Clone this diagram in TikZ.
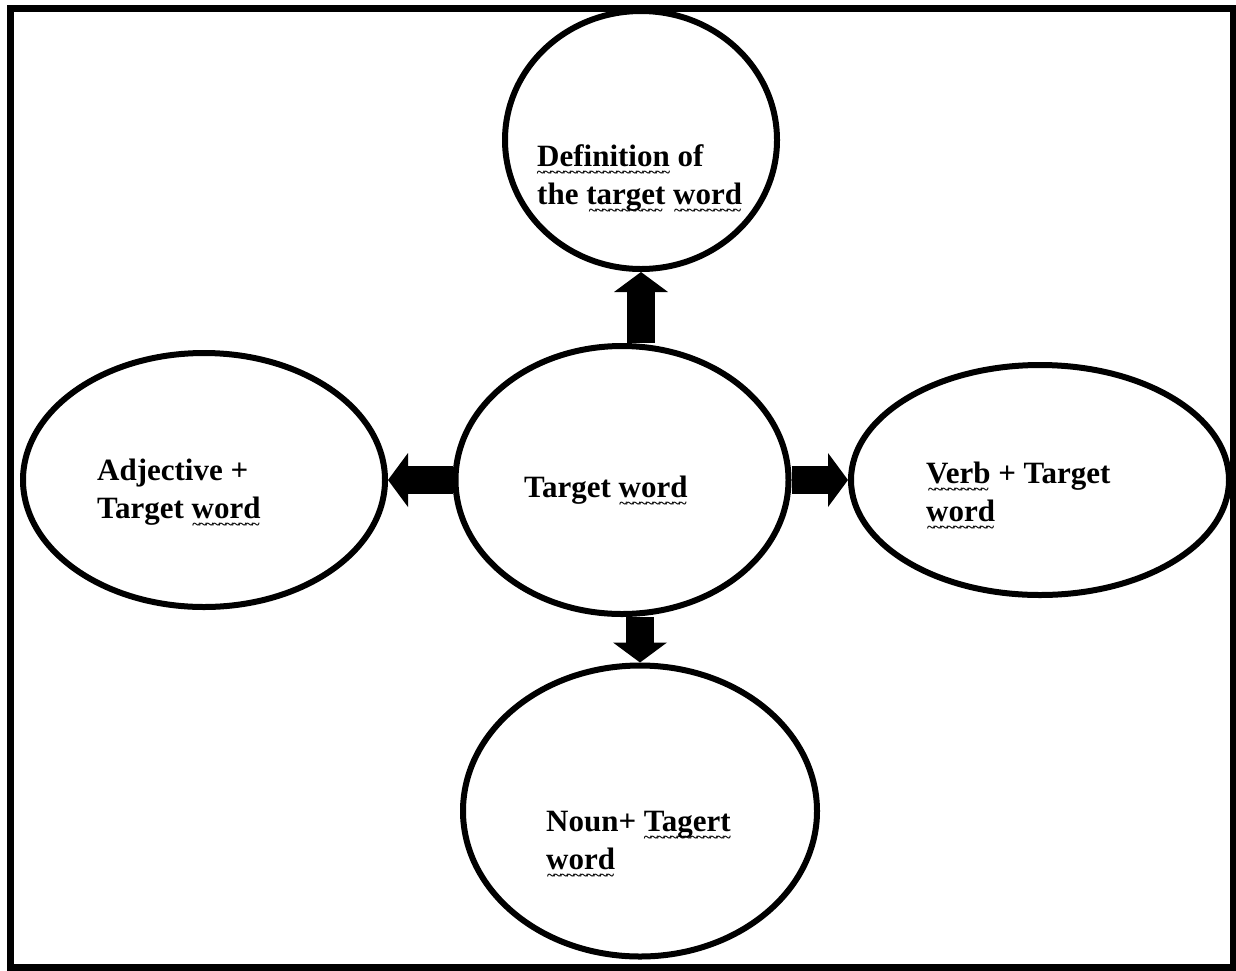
\documentclass[tikz,border=0pt]{standalone}
\usepackage{fontspec}
\setmainfont{Liberation Serif}
\usetikzlibrary{shapes.geometric,arrows.meta}
\newcommand\wavyword[1]{\leavevmode\setbox0\hbox{#1}%
  \rlap{\raisebox{-11pt}{\hbox to\wd0{\fontsize{15}{15}\selectfont\bfseries\cleaders\hbox{\kern-0.6pt\char"7E\kern-0.6pt}\hfil}}}\box0\relax}
\tikzset{
  oval/.style={draw=black, line width=6pt, ellipse, inner sep=0pt},
  lbl/.style={anchor=base west, align=left, inner sep=0pt,
    font=\fontsize{31}{38}\selectfont\bfseries},
  blk/.style={line width=28pt, draw=black,
    -{Triangle[width=54pt,length=20pt,line width=0pt]}}
}
\begin{document}
\begin{tikzpicture}[x=1pt,y=-1pt]
\useasboundingbox (0,0) rectangle (1236,970);
\draw[line width=7pt] (10,8) rectangle (1233,967);
% ellipses
\node[oval, minimum width=272pt, minimum height=258pt] (t) at (641,140) {};
\node[oval, minimum width=333pt, minimum height=268pt] (c) at (622,480) {};
\node[oval, minimum width=362pt, minimum height=254pt] (l) at (204,480) {};
\node[oval, minimum width=378pt, minimum height=230pt] (r) at (1040,480) {};
\node[oval, minimum width=354pt, minimum height=291pt] (b) at (640,811) {};
% arrows
\draw[blk] (c.north -| t.south) -- (t.south);
\draw[blk] (c.south -| b.north) -- (b.north);
\draw[blk] (c.west) -- (l.east);
\draw[blk] (c.east) -- (r.west);
% labels (anchored at the baseline of the last line)
\node[lbl] (tl) at (537,204) {\wavyword{Definition} of\\the \wavyword{target} \wavyword{word}};
\node[lbl] (cl) at (524,497) {Target \wavyword{word}};
\node[lbl] (ll) at (97,518) {Adjective +\\Target \wavyword{word}};
\node[lbl] (rl) at (926,521) {\wavyword{Verb} + Target\\\wavyword{word}};
\node[lbl] (bl) at (546,869) {Noun+ \wavyword{Tagert}\\\wavyword{word}};
\end{tikzpicture}
\end{document}
